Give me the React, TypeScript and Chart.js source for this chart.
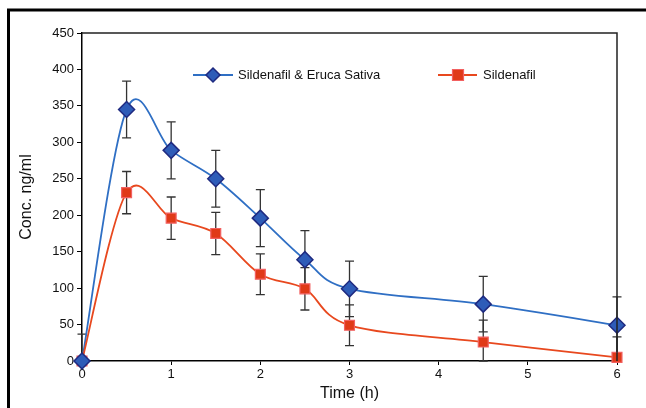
import React, { useEffect, useRef } from "react";
import { Chart, registerables } from "chart.js";

Chart.register(...registerables);

const times = [0, 0.5, 1, 1.5, 2, 2.5, 3, 4.5, 6];
const comboMean = [0, 345, 289, 250, 196, 139, 99, 78, 49];
const comboSD = [37, 39, 39, 39, 39, 40, 38, 38, 39];
const sildMean = [0, 231, 196, 175, 119, 99, 49, 26, 5];
const sildSD = [0, 29, 29, 29, 28, 29, 28, 30, 28];

const comboLabel = "Sildenafil & Eruca Sativa";
const sildLabel = "Sildenafil";
const xTitle = "Time (h)";
const yTitle = "Conc. ng/ml";

const FONT = "'Liberation Sans', Arial, sans-serif";

const BLUE_LINE = "#2f6fc4";
const BLUE_FILL = "#2e5cb8";
const BLUE_EDGE = "#1f2a80";
const RED_LINE = "#e8481e";
const RED_FILL = "#e03a18";
const RED_EDGE = "#f26060";

function drawDiamond(ctx: CanvasRenderingContext2D, x: number, y: number, r: number) {
  ctx.beginPath();
  ctx.moveTo(x, y - r);
  ctx.lineTo(x + r, y);
  ctx.lineTo(x, y + r);
  ctx.lineTo(x - r, y);
  ctx.closePath();
  ctx.fillStyle = BLUE_FILL;
  ctx.fill();
  ctx.lineWidth = 1.5;
  ctx.strokeStyle = BLUE_EDGE;
  ctx.stroke();
}

function drawSquare(ctx: CanvasRenderingContext2D, x: number, y: number, r: number) {
  ctx.beginPath();
  ctx.rect(x - r, y - r, 2 * r, 2 * r);
  ctx.fillStyle = RED_FILL;
  ctx.fill();
  ctx.lineWidth = 1.2;
  ctx.strokeStyle = RED_EDGE;
  ctx.stroke();
}

// Excel-style smoothed line (Catmull-Rom Bezier, 1/6 control factor)
function drawSmooth(ctx: CanvasRenderingContext2D, pts: { x: number; y: number }[], color: string) {
  ctx.save();
  ctx.strokeStyle = color;
  ctx.lineWidth = 1.8;
  ctx.lineJoin = "round";
  ctx.beginPath();
  ctx.moveTo(pts[0].x, pts[0].y);
  for (let i = 0; i < pts.length - 1; i++) {
    const p0 = pts[Math.max(0, i - 1)];
    const p1 = pts[i];
    const p2 = pts[i + 1];
    const p3 = pts[Math.min(pts.length - 1, i + 2)];
    const c1x = p1.x + (p2.x - p0.x) / 6;
    const c1y = p1.y + (p2.y - p0.y) / 6;
    const c2x = p2.x - (p3.x - p1.x) / 6;
    const c2y = p2.y - (p3.y - p1.y) / 6;
    ctx.bezierCurveTo(c1x, c1y, c2x, c2y, p2.x, p2.y);
  }
  ctx.stroke();
  ctx.restore();
}

const errorBarPlugin = {
  id: "errorBars",
  beforeDatasetsDraw(chart: any) {
    const ctx = chart.ctx as CanvasRenderingContext2D;
    const xs = chart.scales.x;
    const ys = chart.scales.y;
    const sets = [
      { m: comboMean, s: comboSD, c: BLUE_LINE },
      { m: sildMean, s: sildSD, c: RED_LINE },
    ];
    ctx.save();
    ctx.strokeStyle = "#333333";
    ctx.lineWidth = 1.3;
    sets.forEach(({ m, s }) => {
      times.forEach((t, i) => {
        if (!s[i]) return;
        const px = xs.getPixelForValue(t);
        const top = ys.getPixelForValue(m[i] + s[i]);
        const bot = ys.getPixelForValue(Math.max(0, m[i] - s[i]));
        ctx.beginPath();
        ctx.moveTo(px, top);
        ctx.lineTo(px, bot);
        ctx.moveTo(px - 4.5, top);
        ctx.lineTo(px + 4.5, top);
        ctx.moveTo(px - 4.5, bot);
        ctx.lineTo(px + 4.5, bot);
        ctx.stroke();
      });
    });
    ctx.restore();
    // smoothed lines
    sets.forEach(({ m, c }) => {
      const pts = times.map((t, i) => ({ x: xs.getPixelForValue(t), y: ys.getPixelForValue(m[i]) }));
      drawSmooth(ctx, pts, c);
    });
  },
};

const framePlugin = {
  id: "frameAndLegend",
  afterDraw(chart: any) {
    const ctx = chart.ctx as CanvasRenderingContext2D;
    const { left, right, top, bottom } = chart.chartArea;
    ctx.save();
    ctx.strokeStyle = "#222222";
    ctx.lineWidth = 1.5;
    ctx.beginPath();
    ctx.moveTo(left, top);
    ctx.lineTo(right, top);
    ctx.lineTo(right, bottom);
    ctx.stroke();
    ctx.strokeStyle = "#000000";
    ctx.lineWidth = 3;
    ctx.beginPath();
    ctx.moveTo(8.5, 420);
    ctx.lineTo(8.5, 10);
    ctx.lineTo(660, 10);
    ctx.stroke();

    const ly = 75;
    ctx.font = `13px ${FONT}`;
    ctx.textBaseline = "middle";
    ctx.textAlign = "left";
    ctx.strokeStyle = BLUE_LINE;
    ctx.lineWidth = 1.8;
    ctx.beginPath();
    ctx.moveTo(193, ly);
    ctx.lineTo(233, ly);
    ctx.stroke();
    drawDiamond(ctx, 213, ly, 7);
    ctx.fillStyle = "#111111";
    ctx.fillText(comboLabel, 238, ly);
    ctx.strokeStyle = RED_LINE;
    ctx.lineWidth = 1.8;
    ctx.beginPath();
    ctx.moveTo(438, ly);
    ctx.lineTo(477, ly);
    ctx.stroke();
    drawSquare(ctx, 458, ly, 5.5);
    ctx.fillStyle = "#111111";
    ctx.fillText(sildLabel, 483, ly);
    ctx.restore();
  },
};

export default function App() {
  const ref = useRef<HTMLCanvasElement | null>(null);
  useEffect(() => {
    if (!ref.current) return;
    const chart = new Chart(ref.current, {
      type: "line",
      data: {
        datasets: [
          {
            label: comboLabel,
            data: times.map((t, i) => ({ x: t, y: comboMean[i] })),
            showLine: false,
            borderColor: BLUE_LINE,
            backgroundColor: BLUE_FILL,
            pointBackgroundColor: BLUE_FILL,
            pointBorderColor: BLUE_EDGE,
            pointBorderWidth: 1.5,
            pointStyle: "rectRot",
            pointRadius: 8,
            clip: false as any,
          },
          {
            label: sildLabel,
            data: times.map((t, i) => ({ x: t, y: sildMean[i] })),
            showLine: false,
            borderColor: RED_LINE,
            backgroundColor: RED_FILL,
            pointBackgroundColor: RED_FILL,
            pointBorderColor: RED_EDGE,
            pointBorderWidth: 1.2,
            pointStyle: "rect",
            pointRadius: 7,
            clip: false as any,
          },
        ],
      },
      options: {
        animation: false,
        responsive: false,
        devicePixelRatio: 1,
        layout: { padding: { left: 0, right: 29, top: 33, bottom: 0 } },
        plugins: { legend: { display: false }, tooltip: { enabled: false } },
        scales: {
          x: {
            type: "linear",
            min: 0,
            max: 6,
            afterFit: (s: any) => {
              s.height = 47;
            },
            ticks: {
              stepSize: 1,
              color: "#111",
              padding: 2,
              font: { family: FONT, size: 13 },
            },
            grid: {
              display: true,
              drawOnChartArea: false,
              drawTicks: true,
              tickLength: 4,
              color: "#000",
            },
            border: { display: true, color: "#000", width: 1.5 },
            title: {
              display: true,
              text: xTitle,
              color: "#111",
              font: { family: FONT, size: 16 },
              padding: { top: 0, bottom: 5 },
            },
          },
          y: {
            type: "linear",
            min: 0,
            max: 450,
            afterFit: (s: any) => {
              s.width = 82;
            },
            ticks: {
              stepSize: 50,
              color: "#111",
              padding: 3,
              font: { family: FONT, size: 13 },
            },
            grid: {
              display: true,
              drawOnChartArea: false,
              drawTicks: true,
              tickLength: 5,
              color: "#000",
            },
            border: { display: true, color: "#000", width: 1.5 },
            title: {
              display: true,
              text: yTitle,
              color: "#111",
              font: { family: FONT, size: 16 },
              padding: { top: 17, bottom: 0 },
            },
          },
        },
      },
      plugins: [errorBarPlugin, framePlugin],
    });
    return () => chart.destroy();
  }, []);
  return (
    <div style={{ position: "fixed", left: 0, top: 0, width: 646, height: 408, background: "#fff" }}>
      <canvas ref={ref} width={646} height={408} />
    </div>
  );
}
